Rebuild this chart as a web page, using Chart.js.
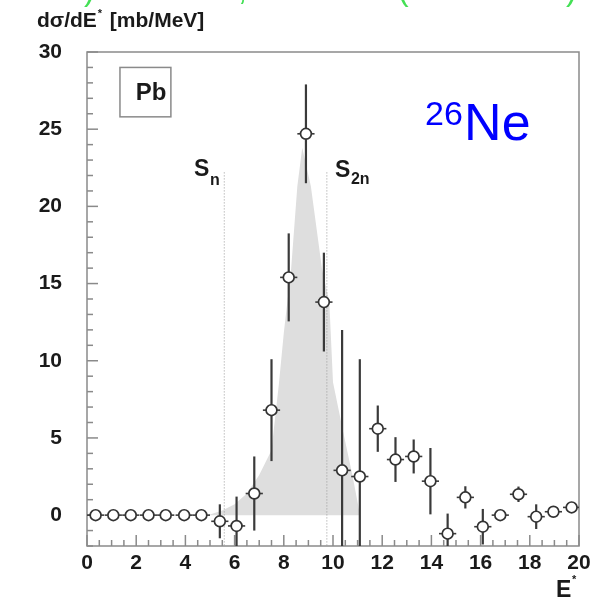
<!DOCTYPE html>
<html>
<head>
<meta charset="utf-8">
<script src="https://cdn.jsdelivr.net/npm/chart.js@4/dist/chart.umd.min.js"></script>
<style>
  body { margin: 0; background: #fff; }
  #wrap { width: 607px; height: 601px; }
</style>
</head>
<body>
<div id="wrap"><canvas id="xsec" width="607" height="601"></canvas></div>
<script>
// excitation energy bins (MeV) and measured cross section (mb/MeV)
var energies = [0.35, 1.07, 1.78, 2.5, 3.2, 3.95, 4.65, 5.4, 6.08, 6.8, 7.5, 8.2, 8.9, 9.63,
                10.37, 11.09, 11.82, 12.54, 13.28, 13.96, 14.66, 15.38, 16.09, 16.8, 17.54, 18.26, 18.96, 19.7];
var sigma = [0, 0, 0, 0, 0, 0, 0, -0.4, -0.7, 1.4, 6.8, 15.4, 24.7, 13.8,
             2.9, 2.5, 5.6, 3.6, 3.8, 2.2, -1.2, 1.15, -0.75, 0.0, 1.35, -0.1, 0.22, 0.5];
var sigmaErr = [0.2, 0.2, 0.2, 0.2, 0.2, 0.2, 0.2, 1.1, 1.9, 2.4, 3.3, 2.85, 3.2, 3.2,
                9.1, 7.6, 1.5, 1.45, 1.1, 2.15, 1.3, 0.72, 1.15, 0.3, 0.5, 0.8, 0.3, 0.3];
var binHalf = 0.35;

// shaded calculated distribution
var calcE = [4.9, 5.5, 6.0, 6.5, 7.0, 7.5, 7.8, 8.0, 8.3, 8.55, 8.75, 9.1, 9.55, 9.85, 10.0, 10.4, 10.8, 11.1];
var calcV = [0, 0.3, 0.7, 1.4, 2.6, 4.2, 8.5, 11.8, 16, 21.3, 23.8, 21.3, 16, 13.8, 8.6, 5.5, 2.5, 0];

// neutron separation thresholds
var thresholds = [5.58, 9.75];
var thresholdTop = 22.2;

var xTicks = [0, 2, 4, 6, 8, 10, 12, 14, 16, 18, 20];
var yTicks = [0, 5, 10, 15, 20, 25, 30];

var FONT = "'Liberation Sans', Arial, Helvetica, sans-serif";

function pts(xs, ys) {
    var out = [];
    for (var i = 0; i < xs.length; i++) out.push({x: xs[i], y: ys[i]});
    return out;
}

var framePlugin = {
    id: 'frame',
    beforeDatasetsDraw: function(chart) {
        var ctx = chart.ctx, a = chart.chartArea;
        var xs = chart.scales.x, ys = chart.scales.y;
        ctx.save();
        ctx.strokeStyle = '#8a8a8a';
        ctx.lineWidth = 1.5;
        // y ticks inside left edge
        for (var v = -2; v <= 30; v++) {
            var py = ys.getPixelForValue(v);
            var len = (v % 5 === 0) ? 11 : 6;
            ctx.beginPath(); ctx.moveTo(a.left, py); ctx.lineTo(a.left + len, py); ctx.stroke();
        }
        // x ticks inside bottom edge
        for (var e = 0; e <= 20; e += 0.5) {
            var px = xs.getPixelForValue(e);
            var l2 = (e % 2 === 0) ? 11 : 6;
            ctx.beginPath(); ctx.moveTo(px, a.bottom); ctx.lineTo(px, a.bottom - l2); ctx.stroke();
        }
        ctx.strokeRect(a.left, a.top, a.right - a.left, a.bottom - a.top);
        ctx.restore();
    },
    beforeDatasetDraw: function(chart, args) {
        if (args.index !== 0) return;
        var ctx = chart.ctx, a = chart.chartArea;
        var xs = chart.scales.x, ys = chart.scales.y;
        ctx.save();
        ctx.beginPath();
        ctx.rect(a.left, a.top, a.right - a.left, a.bottom - a.top);
        ctx.clip();
        ctx.strokeStyle = '#3a3a3a';
        for (var i = 0; i < energies.length; i++) {
            var px = xs.getPixelForValue(energies[i]);
            var py = ys.getPixelForValue(sigma[i]);
            ctx.lineWidth = 2.2;
            ctx.beginPath();
            ctx.moveTo(px, ys.getPixelForValue(sigma[i] + sigmaErr[i]));
            ctx.lineTo(px, ys.getPixelForValue(sigma[i] - sigmaErr[i]));
            ctx.stroke();
            ctx.lineWidth = 1.6;
            ctx.beginPath();
            ctx.moveTo(xs.getPixelForValue(energies[i] - binHalf), py);
            ctx.lineTo(xs.getPixelForValue(energies[i] + binHalf), py);
            ctx.stroke();
        }
        ctx.restore();
    },
    afterDraw: function(chart) {
        var ctx = chart.ctx;
        var xs = chart.scales.x, ys = chart.scales.y;
        ctx.save();
        ctx.fillStyle = '#1a1a1a';
        ctx.textBaseline = 'alphabetic';

        // y title
        var x0 = 37;
        ctx.font = 'bold 21px ' + FONT;
        ctx.fillText('d\u03c3/dE', x0, 27);
        x0 += ctx.measureText('d\u03c3/dE').width + 1;
        ctx.font = 'bold 11px ' + FONT;
        ctx.fillText('*', x0, 17);
        x0 += 12;
        ctx.font = 'bold 21px ' + FONT;
        ctx.fillText('[mb/MeV]', x0, 27);

        // x title
        ctx.font = 'bold 23px ' + FONT;
        ctx.fillText('E', 556, 597);
        ctx.font = 'bold 11px ' + FONT;
        ctx.fillText('*', 572, 583);

        // Pb box
        var bx1 = xs.getPixelForValue(1.34), bx2 = xs.getPixelForValue(3.41);
        var by1 = ys.getPixelForValue(29.0), by2 = ys.getPixelForValue(25.8);
        ctx.strokeStyle = '#8a8a8a';
        ctx.lineWidth = 1.5;
        ctx.strokeRect(bx1, by1, bx2 - bx1, by2 - by1);
        ctx.font = 'bold 24px ' + FONT;
        ctx.fillText('Pb', xs.getPixelForValue(1.98), ys.getPixelForValue(26.9));

        // threshold labels
        ctx.font = 'bold 23px ' + FONT;
        var sx = xs.getPixelForValue(4.35), sy = ys.getPixelForValue(22.0);
        ctx.fillText('S', sx, sy);
        ctx.font = 'bold 16px ' + FONT;
        ctx.fillText('n', sx + 16, sy + 9);
        ctx.font = 'bold 23px ' + FONT;
        sx = xs.getPixelForValue(10.08); sy = ys.getPixelForValue(21.9);
        ctx.fillText('S', sx, sy);
        ctx.font = 'bold 16px ' + FONT;
        ctx.fillText('2n', sx + 16, sy + 7);

        // nucleus label
        ctx.fillStyle = '#0000ff';
        ctx.font = '34px ' + FONT;
        ctx.fillText('26', xs.getPixelForValue(13.74), ys.getPixelForValue(25.26));
        ctx.font = '52px ' + FONT;
        ctx.fillText('Ne', xs.getPixelForValue(15.33), ys.getPixelForValue(24.29));

        // green caption cut off at the top edge
        ctx.fillStyle = '#44e055';
        ctx.font = '32px ' + FONT;
        ctx.fillText(')', 84, 0);
        ctx.fillText(',', 238, 0);
        ctx.fillText('(', 398, 0);
        ctx.fillText(')', 566, 0);
        ctx.restore();
    }
};

var ctx = document.getElementById('xsec');
var chart = new Chart(ctx, {
    type: 'scatter',
    data: {
        datasets: [
            {
                label: 'data',
                data: pts(energies, sigma),
                pointRadius: 5.4,
                pointBorderWidth: 1.7,
                pointBorderColor: '#333333',
                pointBackgroundColor: '#ffffff',
                showLine: false
            },
            {
                label: 'Sn',
                data: [{x: thresholds[0], y: thresholdTop}, {x: thresholds[0], y: -2}],
                showLine: true,
                borderColor: '#9a9a9a',
                borderWidth: 1,
                borderDash: [1, 2],
                pointRadius: 0
            },
            {
                label: 'S2n',
                data: [{x: thresholds[1], y: thresholdTop}, {x: thresholds[1], y: -2}],
                showLine: true,
                borderColor: '#9a9a9a',
                borderWidth: 1,
                borderDash: [1, 2],
                pointRadius: 0
            },
            {
                label: 'calc',
                data: pts(calcE, calcV),
                showLine: true,
                fill: 'origin',
                backgroundColor: '#dedede',
                borderColor: 'rgba(0,0,0,0)',
                borderWidth: 0,
                pointRadius: 0,
                tension: 0
            }
        ]
    },
    options: {
        responsive: false,
        animation: false,
        layout: { padding: { top: 52, right: 28, left: 0, bottom: 0 } },
        plugins: { legend: { display: false }, tooltip: { enabled: false } },
        scales: {
            x: {
                type: 'linear',
                min: 0, max: 20,
                grid: { display: false, drawTicks: false },
                border: { display: false },
                afterFit: function(s) { s.height = 55; },
                afterBuildTicks: function(s) { s.ticks = xTicks.map(function(v) { return {value: v}; }); },
                ticks: {
                    padding: 5,
                    color: '#1a1a1a',
                    maxRotation: 0,
                    autoSkip: false,
                    font: { family: FONT, size: 21, weight: 'bold' }
                }
            },
            y: {
                min: -2, max: 30,
                grid: { display: false, drawTicks: false },
                border: { display: false },
                afterFit: function(s) { s.width = 87; },
                afterBuildTicks: function(s) { s.ticks = yTicks.map(function(v) { return {value: v}; }); },
                ticks: {
                    padding: 25,
                    color: '#1a1a1a',
                    font: { family: FONT, size: 21, weight: 'bold' }
                }
            }
        }
    },
    plugins: [framePlugin]
});
</script>
</body>
</html>
